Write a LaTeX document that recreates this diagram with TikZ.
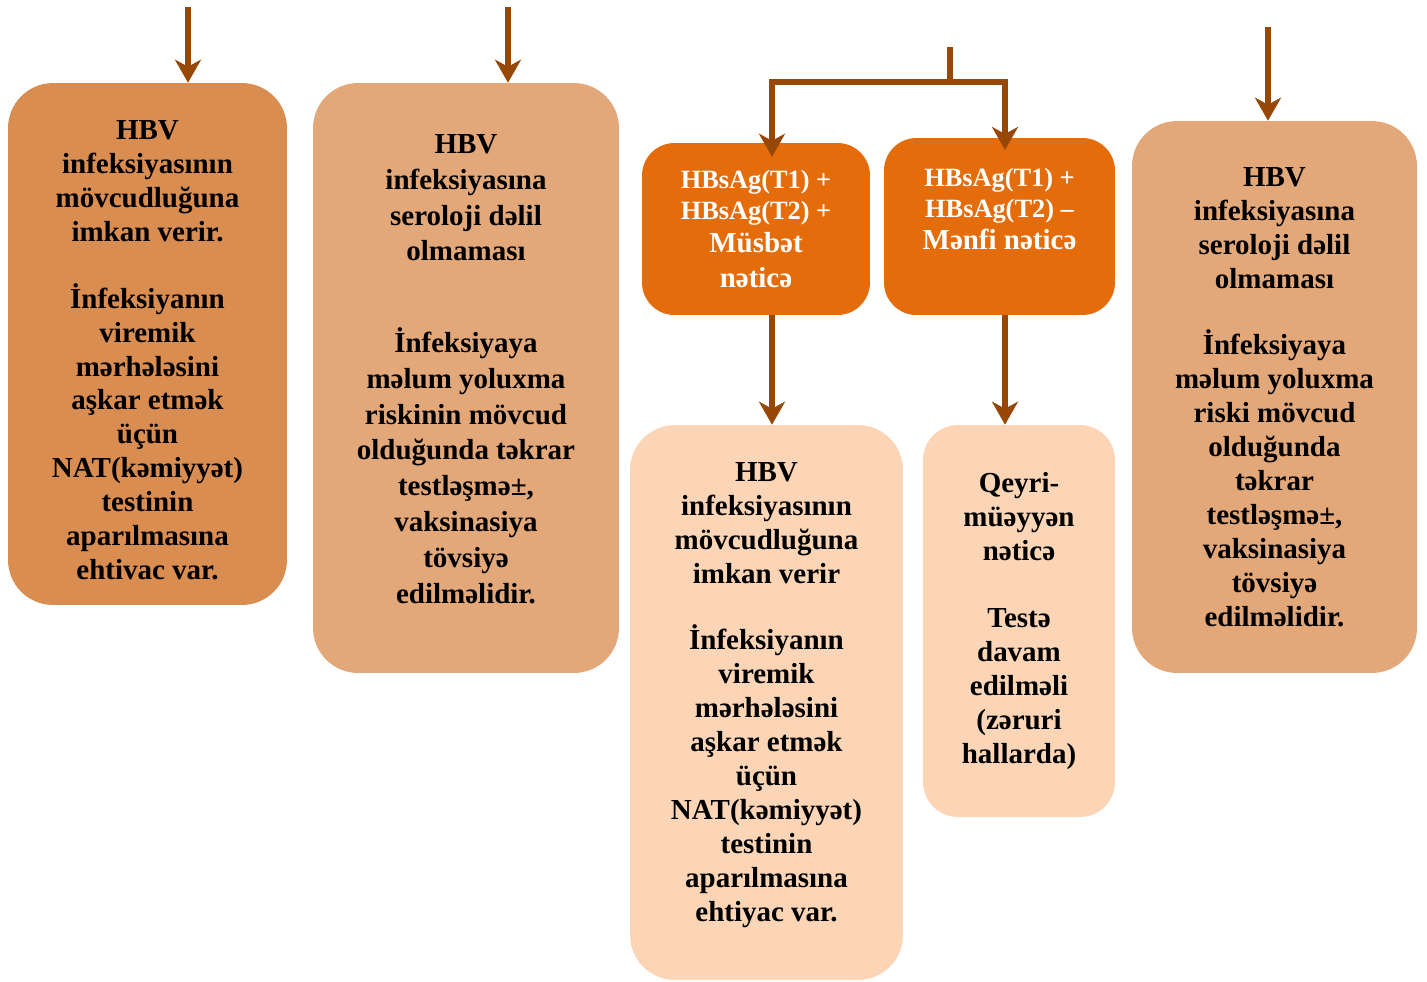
\documentclass[tikz,border=0pt]{standalone}
\usepackage{fontspec}
\setmainfont{Liberation Serif}
\usepackage{tikz}
\usetikzlibrary{arrows.meta}
\definecolor{darkbox}{RGB}{217,141,80}
\definecolor{midbox}{RGB}{227,168,121}
\definecolor{lightbox}{RGB}{251,213,181}
\definecolor{resultbox}{RGB}{228,108,10}
\definecolor{arrowbrown}{RGB}{151,72,6}

\tikzset{
	textbox/.style={rounded corners=0.9cm, inner sep=0pt, align=center, text=black,
		font=\bfseries\fontsize{16.5}{19.3}\selectfont},
	resbox/.style={rounded corners=0.65cm, inner sep=0pt, align=center, text=white, fill=resultbox,
		font=\bfseries\fontsize{15}{17.6}\selectfont},
	flow/.style={arrowbrown, line width=3.8pt,
		arrows={-Stealth[length=0.46cm, width=0.52cm, inset=0.14cm, arrowbrown, fill=arrowbrown]}},
}

\begin{document}
\begin{tikzpicture}[x=0.02cm, y=-0.02cm]
	\useasboundingbox (0,0) rectangle (1427,981);
	
	%Qutular
	\node[textbox, fill=darkbox, minimum width=5.58cm, minimum height=10.44cm] (hbvA) at (147.5,344)
		{\rule{0pt}{18pt}HBV\\ infeksiyasının\\ mövcudluğuna\\ imkan verir.\\[18.7pt] İnfeksiyanın\\ viremik\\ mərhələsini\\ aşkar etmək\\ üçün\\ NAT(kəmiyyət)\\ testinin\\ aparılmasına\\ ehtivac var.};
	\node[textbox, fill=midbox, minimum width=6.12cm, minimum height=11.8cm,
		font=\bfseries\fontsize{16.5}{20.4}\selectfont] (seroB) at (466,378)
		{HBV\\ infeksiyasına\\ seroloji dəlil\\ olmaması\\[31.7pt] İnfeksiyaya\\ məlum yoluxma\\ riskinin mövcud\\ olduğunda təkrar\\ testləşmə±,\\ vaksinasiya\\ tövsiyə\\ edilməlidir.\\[-10pt] \mbox{}};
	\node[resbox, minimum width=4.56cm, minimum height=3.44cm] (pos) at (756,229)
		{HBsAg(T1) +\\ HBsAg(T2) +\\[1pt] {\fontsize{16.5}{19.3}\selectfont Müsbət}\\[2pt] {\fontsize{16.5}{19.3}\selectfont nəticə}};
	\node[resbox, minimum width=4.62cm, minimum height=3.54cm] (neg) at (999.5,226.5)
		{HBsAg(T1) +\\ HBsAg(T2) --\\[1pt] {\fontsize{16.5}{19.3}\selectfont Mənfi nəticə}\\[2.6pt] \mbox{}};
	\node[textbox, fill=lightbox, minimum width=5.46cm, minimum height=11.1cm] (hbvE) at (766.5,702.5)
		{HBV\\ infeksiyasının\\ mövcudluğuna\\ imkan verir\\[18.7pt] İnfeksiyanın\\ viremik\\ mərhələsini\\ aşkar etmək\\ üçün\\ NAT(kəmiyyət)\\ testinin\\ aparılmasına\\ ehtiyac var.\\[-7pt] \mbox{}};
	\node[textbox, fill=lightbox, minimum width=3.84cm, minimum height=7.84cm, rounded corners=0.7cm] (unsure) at (1019,621)
		{Qeyri-\\ müəyyən\\ nəticə\\[19pt] Testə\\ davam\\ edilməli\\ (zəruri\\ hallarda)};
	\node[textbox, fill=midbox, minimum width=5.7cm, minimum height=11.04cm] (seroG) at (1274.5,397)
		{HBV\\ infeksiyasına\\ seroloji dəlil\\ olmaması\\[18.7pt] İnfeksiyaya\\ məlum yoluxma\\ riski mövcud\\ olduğunda\\ təkrar\\ testləşmə±,\\ vaksinasiya\\ tövsiyə\\ edilməlidir.};
	
	%Oxlar
	\coordinate (inA) at (188,7);
	\coordinate (inB) at (508,7);
	\coordinate (inG) at (1268,27);
	\coordinate (split) at (950,47);
	\coordinate (colpos) at (772,0);
	\coordinate (colneg) at (1005,0);
	\draw[flow] (inA) -- (inA |- hbvA.north);
	\draw[flow] (inB) -- (inB |- seroB.north);
	\draw[flow] (inG) -- (inG |- seroG.north);
	\draw[arrowbrown, line width=3.8pt] (split) -- (950,82);
	\draw[flow] (950,82) -| ([yshift=-8] colpos |- pos.north);
	\draw[flow] (950,82) -| ([yshift=-7] colneg |- neg.north);
	\draw[flow] (colpos |- pos.south) -- (colpos |- hbvE.north);
	\draw[flow] (colneg |- neg.south) -- (colneg |- unsure.north);
	
\end{tikzpicture}
\end{document}
